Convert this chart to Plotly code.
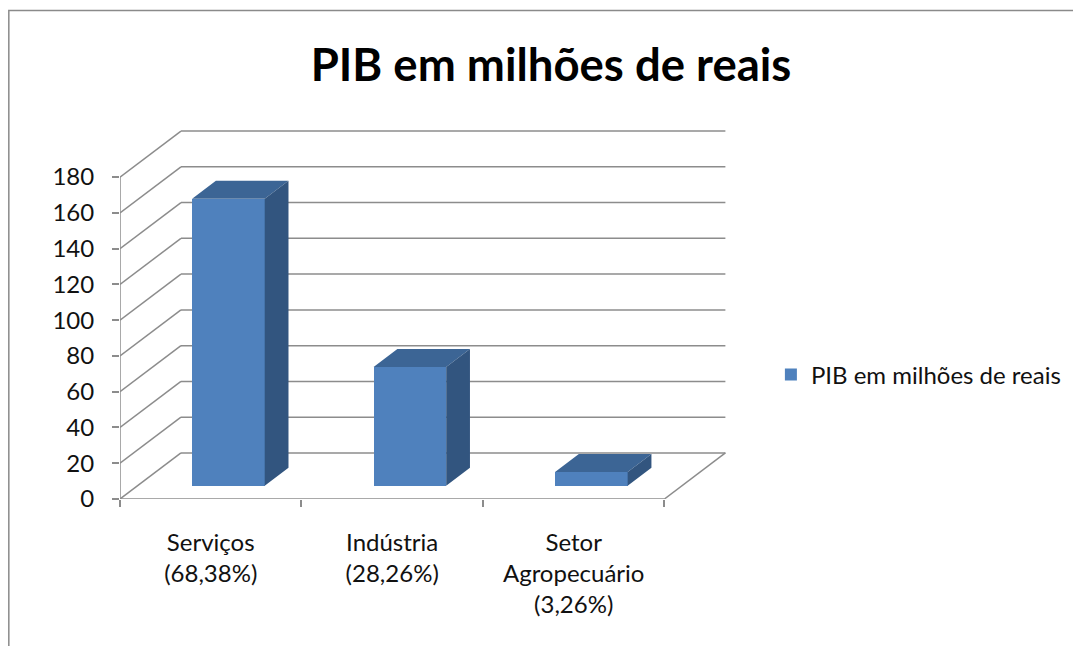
import plotly.graph_objects as go

# ---------------- data ----------------
categories = ["Serviços<br>(68,38%)", "Indústria<br>(28,26%)", "Setor<br>Agropecuário<br>(3,26%)"]
values = [160.4, 66.3, 7.6]
series_name = "PIB em milhões de reais"
chart_title = "PIB em milhões de reais"
y_ticks = [0, 20, 40, 60, 80, 100, 120, 140, 160, 180]

# ---------------- style / geometry ----------------
OFF = 8               # page body margin
W, H = 1081 - OFF, 646 - OFF
FONT = "Lato"
FRONT = "#4F81BD"
TOP = "#3C6595"
SIDE = "#32557F"
GRID = "#8C8C8C"
DEPTH_DX = 0.336      # oblique depth shift (category units)
DEPTH_DY = 25.74      # oblique depth shift (value units)
BAR_W = 0.4
D0, D1 = 0.29, 0.68   # bar front/back position along depth
X_RANGE = [0, 3.4]
Y_RANGE = [0, 208]
PX_CAT = 181.5
PX_VAL = 1.787
ML = 120 - OFF
BOTTOM = 499 - OFF
plot_w = PX_CAT * (X_RANGE[1] - X_RANGE[0])
plot_h = PX_VAL * (Y_RANGE[1] - Y_RANGE[0])
MB = H - BOTTOM
MR = W - ML - plot_w
MT = H - MB - plot_h

n = len(categories)
centers = [i + 0.5 for i in range(n)]
fx, fy = D0 * DEPTH_DX, D0 * DEPTH_DY
bx, by = D1 * DEPTH_DX, D1 * DEPTH_DY
h = BAR_W / 2

fig = go.Figure()

# front faces
fig.add_trace(go.Bar(
    x=[c + fx for c in centers], y=values, base=[fy] * n, width=BAR_W,
    marker=dict(color=FRONT, line=dict(width=0)), name=series_name,
    showlegend=True, hoverinfo="skip",
))

# top and side faces
tx, ty, sx, sy = [], [], [], []
for c, v in zip(centers, values):
    tx += [c - h + fx, c + h + fx, c + h + bx, c - h + bx, c - h + fx, None]
    ty += [v + fy, v + fy, v + by, v + by, v + fy, None]
    sx += [c + h + fx, c + h + bx, c + h + bx, c + h + fx, c + h + fx, None]
    sy += [fy, by, v + by, v + fy, fy, None]
fig.add_trace(go.Scatter(x=tx, y=ty, fill="toself", fillcolor=TOP, mode="lines",
                         line=dict(width=0, color=TOP), showlegend=False, hoverinfo="skip"))
fig.add_trace(go.Scatter(x=sx, y=sy, fill="toself", fillcolor=SIDE, mode="lines",
                         line=dict(width=0, color=SIDE), showlegend=False, hoverinfo="skip"))

# walls / gridlines
shapes = []
for v in y_ticks:
    shapes.append(dict(type="line", xref="x", yref="y", x0=DEPTH_DX, y0=v + DEPTH_DY,
                       x1=n + DEPTH_DX, y1=v + DEPTH_DY, line=dict(color=GRID, width=1.5), layer="below"))
    shapes.append(dict(type="line", xref="x", yref="y", x0=0, y0=v,
                       x1=DEPTH_DX, y1=v + DEPTH_DY, line=dict(color=GRID, width=1.5), layer="below"))
shapes.append(dict(type="line", xref="x", yref="y", x0=0, y0=0, x1=0, y1=y_ticks[-1],
                   line=dict(color=GRID, width=1.5), layer="below"))
shapes.append(dict(type="line", xref="x", yref="y", x0=0, y0=0, x1=n, y1=0,
                   line=dict(color=GRID, width=1.5), layer="below"))
shapes.append(dict(type="line", xref="x", yref="y", x0=n, y0=0, x1=n + DEPTH_DX, y1=DEPTH_DY,
                   line=dict(color=GRID, width=1.5), layer="below"))
# chart border (left & top visible)
shapes.append(dict(type="rect", xref="paper", yref="paper",
                   x0=(0.8 - ML) / plot_w, x1=(W + 20 - ML) / plot_w,
                   y0=-(MB + 20) / plot_h, y1=(BOTTOM - 3) / plot_h,
                   line=dict(color="#8A8A8A", width=1.5), layer="below"))

fig.update_layout(
    width=W, height=H,
    margin=dict(l=ML, r=MR, t=MT, b=MB, autoexpand=False),
    paper_bgcolor="white", plot_bgcolor="white",
    font=dict(family=FONT, size=24, color="#111111"),
    title=dict(text="<b>" + chart_title + "</b>", font=dict(family=FONT, size=45.5, color="#000000"),
               x=(551 - OFF) / W, xref="container", xanchor="center",
               y=1 - (65 - OFF) / H, yref="container", yanchor="middle"),
    shapes=shapes,
    showlegend=True,
    legend=dict(x=(771 - OFF - ML) / plot_w, y=(BOTTOM - (375 - OFF)) / plot_h,
                xanchor="left", yanchor="middle",
                font=dict(family=FONT, size=24, color="#111111"), bgcolor="rgba(0,0,0,0)"),
    bargap=0,
)
fig.update_xaxes(range=X_RANGE, showgrid=False, zeroline=False, showline=False,
                 tickmode="array", tickvals=centers, ticktext=categories, ticks="",
                 ticklabelstandoff=27,
                 minor=dict(tickmode="array", tickvals=list(range(n + 1)), ticks="outside",
                            ticklen=7, tickcolor=GRID, tickwidth=1.5, showgrid=False),
                 fixedrange=True)
fig.update_yaxes(range=Y_RANGE, showgrid=False, zeroline=False, showline=False,
                 tickmode="array", tickvals=y_ticks, ticks="outside", ticklen=7,
                 tickcolor=GRID, tickwidth=1.5, ticklabelstandoff=13, fixedrange=True)

fig.write_html("out.html")
